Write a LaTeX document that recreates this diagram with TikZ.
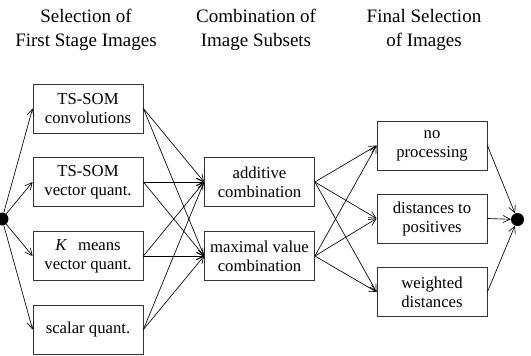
\documentclass[tikz,border=0pt]{standalone}
\usepackage{fontspec}
\setmainfont{Liberation Serif}
\usetikzlibrary{arrows.meta}
\begin{document}
\begin{tikzpicture}[x=1pt,y=-1pt,
 box/.style={draw=black!80, line width=0.8pt, minimum width=110pt, minimum height=49pt, inner sep=0pt, align=center, font=\fontsize{16.7}{19}\selectfont},
 ttl/.style={align=center, inner sep=0pt, font=\fontsize{19}{24}\selectfont},
 arr/.style={-{Straight Barb[length=7pt,width=7pt]}, line width=0.65pt},
 blob/.style={circle, fill=black, minimum size=13pt, inner sep=0pt}]
\useasboundingbox (0,0) rectangle (531,356);
\node[ttl] (t1) at (86,30) {Selection of\\First Stage Images};
\node[ttl] (t2) at (256,30) {Combination of\\Image Subsets};
\node[ttl] (t3) at (424,30) {Final Selection\\of Images};
\node[blob] (s) at (2,219) {};
\node[box] (a1) at (88,108.5) {TS-SOM\\convolutions};
\node[box] (a2) at (88,182) {TS-SOM\\vector quant.};
\node[box] (a3) at (88,256) {\textit{K}\hspace{0.4em} means\\vector quant.};
\node[box] (a4) at (88,329.5) {scalar quant.};
\node[box] (b1) at (259.5,182) {additive\\combination};
\node[box] (b2) at (259.5,256) {maximal value\\combination};
\node[box] (c1) at (432,145.5) {no\\processing};
\node[box] (c2) at (432,218.5) {distances to\\positives};
\node[box] (c3) at (432,292) {weighted\\distances};
\node[blob] (e) at (517.5,219.5) {};
\foreach \i in {1,...,4} {
  \draw[arr] (s) -- (a\i.west);
  \draw[arr] (a\i.east) -- (b1.west);
  \draw[arr] (a\i.east) -- (b2.west);
}
\foreach \j in {1,2,3} {
  \draw[arr] (b1.east) -- (c\j.west);
  \draw[arr] (b2.east) -- (c\j.west);
  \draw[arr] (c\j.east) -- (e);
}
\end{tikzpicture}
\end{document}
